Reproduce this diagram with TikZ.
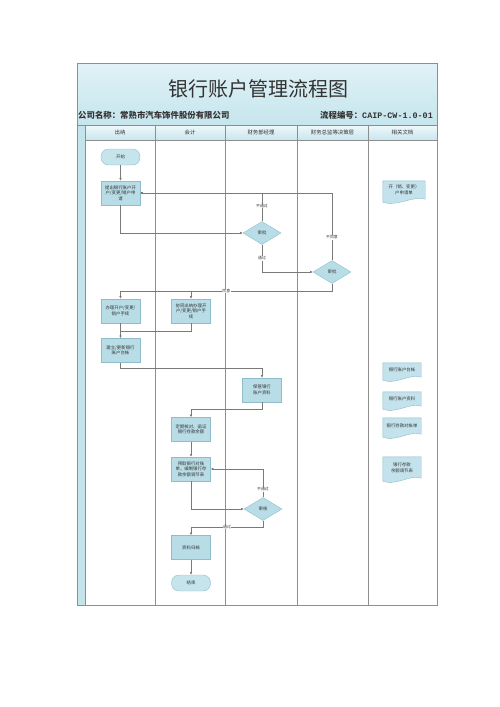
\documentclass[tikz,border=0pt]{standalone}
\usepackage{fontspec}
\setmainfont{Liberation Serif}
\newfontfamily\cjk{Noto Sans CJK SC}
\newfontfamily\cjkmono{Liberation Mono}
\usetikzlibrary{arrows.meta,calc,shapes.geometric}
\pgfdeclarelayer{bg}
\pgfsetlayers{bg,main}
\definecolor{boxfill}{HTML}{B9DDE7}
\definecolor{boxline}{HTML}{8FBDCC}
\definecolor{termfill}{HTML}{C6E4EC}
\definecolor{docfill}{HTML}{C3E2EB}
\definecolor{gridc}{HTML}{8E8E8E}
\definecolor{flowc}{HTML}{7A7A7A}
\definecolor{txtc}{HTML}{333333}
\definecolor{bandtop}{HTML}{E0F2F7}
\definecolor{bandbot}{HTML}{C6E5ED}
\definecolor{hdrtop}{HTML}{F0F8FA}
\definecolor{hdrbot}{HTML}{C8E6EE}
\definecolor{stripc}{HTML}{C4E4EC}
\tikzset{
  proc/.style={draw=boxline, fill=boxfill, line width=0.4pt, minimum width=39pt, minimum height=24pt,
    inner sep=1pt, align=center, text=txtc, font=\cjk\fontsize{4.4}{5.6}\selectfont},
  term/.style={proc, fill=termfill, rounded corners=7.5pt, minimum height=16pt},
  dec/.style={diamond, draw=boxline, fill=boxfill, line width=0.4pt, minimum width=38pt, minimum height=23pt,
    inner sep=0pt, text=txtc, font=\cjk\fontsize{4.4}{5.6}\selectfont},
  docn/.style={draw=none, minimum width=38pt, inner sep=0.5pt, align=center, text=txtc,
    font=\cjk\fontsize{4.4}{5.8}\selectfont},
  docshape/.style={draw=boxline, fill=docfill, line width=0.4pt},
  flow/.style={draw=flowc, line width=0.45pt, -{Latex[length=2.6pt,width=2.2pt,fill=black]}},
  conn/.style={draw=flowc, line width=0.45pt},
  lab/.style={fill=white, inner sep=0.4pt, text=txtc, font=\cjk\fontsize{3.9}{4.5}\selectfont},
  hdr/.style={text=txtc, font=\cjk\fontsize{5.4}{6}\selectfont},
  grid/.style={draw=gridc, line width=0.6pt}
}
\newcommand\docoutline[1]{%
  \draw[docshape] (#1.north west) -- (#1.north east) -- (#1.south east)
    .. controls ($(#1.south east)+(-12,-4)$) and ($(#1.south west)+(14,8)$) ..
    ($(#1.south west)+(0,3)$) -- cycle;}
\begin{document}
\begin{tikzpicture}[x=1pt,y=-1pt]
\useasboundingbox (0,0) rectangle (500,707);
% bands
\shade[top color=bandtop, bottom color=bandbot] (77,63) rectangle (437,125);
\shade[top color=hdrtop, bottom color=hdrbot] (85,125) rectangle (437,140);
\fill[stripc] (77,125) rectangle (85,605);
% frame and lanes
\draw[grid] (77,63) rectangle (437,605);
\draw[grid] (77,125) -- (437,125);
\draw[grid] (85,140) -- (437,140);
\foreach \xx in {85,155,225,297,368} \draw[grid] (\xx,125) -- (\xx,605);
% titles
\node[text=txtc, font=\cjk\fontsize{20}{22}\selectfont] (title) at (258,89) {银行账户管理流程图};
\node[anchor=west, inner sep=0pt, text=txtc, font=\cjk\bfseries\fontsize{8.4}{9}\selectfont] (comp) at (78,115) {公司名称：常熟市汽车饰件股份有限公司};
\node[anchor=east, inner sep=0pt, text=txtc, font=\cjk\bfseries\fontsize{8.4}{9}\selectfont] (code) at (433,115) {流程编号：{\cjkmono CAIP-CW-1.0-01}};
\node[hdr] (h1) at (120,132.5) {出纳};
\node[hdr] (h2) at (190,132.5) {会计};
\node[hdr] (h3) at (261,132.5) {财务部经理};
\node[hdr] (h4) at (332.5,132.5) {财务总监等决策层};
\node[hdr] (h5) at (402.5,132.5) {相关文档};
% process nodes
\node[term] (start) at (120.5,157) {开始};
\node[proc] (b1) at (120.5,193) {提出银行账户开\\户/变更/销户申\\请};
\node[dec] (d1) at (262,233) {审批};
\node[dec] (d2) at (332,272) {审批};
\node[proc] (b3) at (120.5,311) {办理开户/变更/\\销户手续};
\node[proc] (b4) at (191,311) {协同出纳办理开\\户/变更/销户手\\续};
\node[proc] (b5) at (120.5,350.5) {建立/更新银行\\账户台帐};
\node[proc] (b6) at (262,390) {保管银行\\账户资料};
\node[proc] (b7) at (191,429.5) {定期核对、函证\\银行存款余额};
\node[proc] (b8) at (191,469) {预取银行对账\\单，编制银行存\\款余额调节表};
\node[dec] (d3) at (263,509) {审核};
\node[proc] (b9) at (191,547.5) {资料归档};
\node[term] (stop) at (191,583) {结束};
% documents
\node[docn, minimum width=42pt, minimum height=18pt] (k1) at (404,190) {开（销、变更）\\户申请单};
\node[docn, minimum height=14pt] (k2) at (402,370) {银行账户台帐};
\node[docn, minimum height=14pt] (k3) at (402,399) {银行账户资料};
\node[docn, minimum height=16pt] (k4) at (402,426) {银行存款对帐单};
\node[docn, minimum height=21pt] (k5) at (402,467.5) {银行存款\\余额调节表};
\begin{pgfonlayer}{bg}
\docoutline{k1}
\docoutline{k2}
\docoutline{k3}
\docoutline{k4}
\docoutline{k5}
\end{pgfonlayer}
% helper coordinates
\coordinate (ag) at (120.5,291);
\coordinate (bg) at (191,291);
\coordinate (jn) at (120.5,331);
% connectors
\draw[flow] (start) -- (b1);
\draw[flow] (b1.south) |- (d1.west);
\draw[flow] (d1.north) |- (b1.east) node[lab, pos=0.27] {不通过};
\draw[flow] (d2.north) |- (b1.east) node[lab, pos=0.17] {不同意};
\draw[flow] (d1.south) |- (d2.west) node[lab, pos=0.25] {通过};
\draw[flow] (d2.south) |- (ag) node[lab, pos=0.75] {同意} -- (b3.north);
\draw[flow] (bg) -- (b4.north);
\draw[conn] (b4.south) |- (jn);
\draw[flow] (b3) -- (b5);
\draw[flow] (b5.south) -- ++(0,6) -| (b6.north);
\draw[flow] (b6.south) -- ++(0,7) -| (b7.north);
\draw[flow] (b7) -- (b8);
\draw[flow] (b8.south) |- (d3.west);
\draw[flow] (d3.north) |- (b8.east) node[lab, pos=0.14] {不通过};
\draw[flow] (d3.south) -- ++(0,6.5) -| (b9.north) node[lab, pos=0.25] {通过};
\draw[flow] (b9) -- (stop);
\end{tikzpicture}
\end{document}
